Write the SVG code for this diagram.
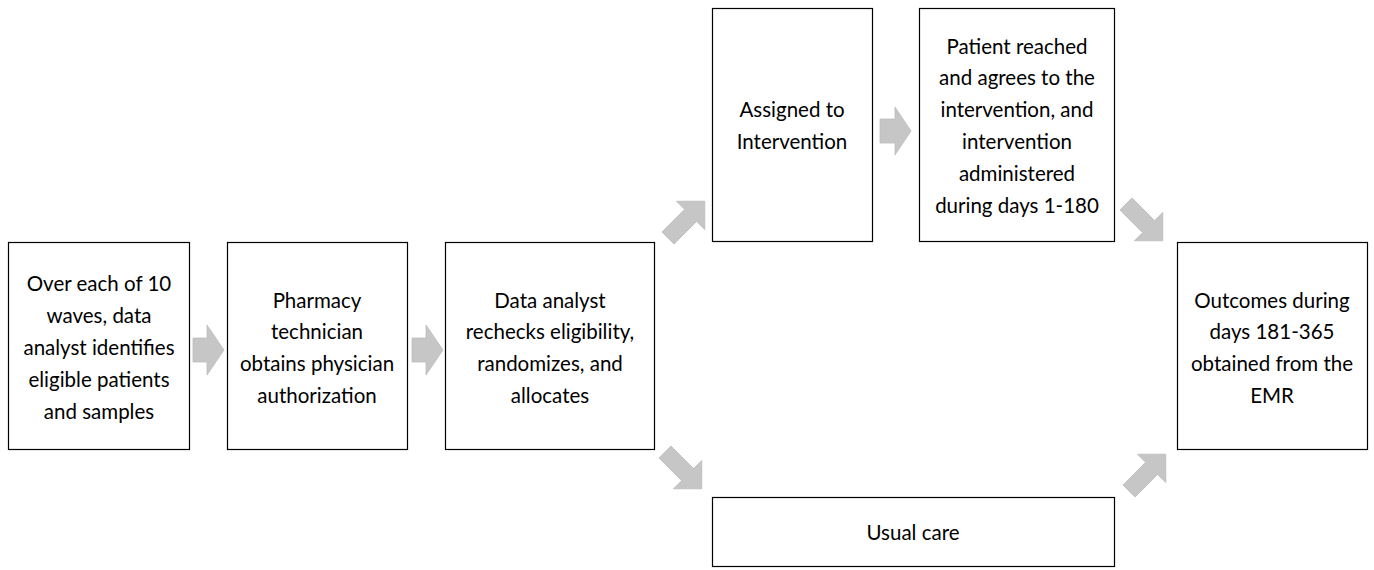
<svg xmlns="http://www.w3.org/2000/svg" width="1374" height="570" viewBox="0 0 1374 570">
<style>
.box{fill:#fff;stroke:#000;stroke-width:1.2}
text{font-family:Lato,"Open Sans","Liberation Sans",sans-serif;font-size:20.5px;fill:#000;text-anchor:middle;dominant-baseline:central}
.arr{fill:#c6c6c6;stroke:#bdbdbd;stroke-width:0.8}
</style>
<defs>
<path id="diag" d="M0,-8.5 L32,-8.5 L32,-20 L52,0 L32,20 L32,8.5 L0,8.5 Z"/>
</defs>
<rect width="1374" height="570" fill="#fff"/>
<g id="connectors">
<path class="arr" d="M193,338 L207,338 L207,325 L224,350 L207,375 L207,362 L193,362 Z"/>
<path class="arr" d="M412,338 L426,338 L426,325 L443,350 L426,375 L426,362 L412,362 Z"/>
<path class="arr" d="M880,119 L895,119 L895,107 L911,131 L895,155 L895,143 L880,143 Z"/>
<use href="#diag" class="arr" transform="translate(668,238) rotate(-45)"/>
<use href="#diag" class="arr" transform="translate(665,452) rotate(45)"/>
<use href="#diag" class="arr" transform="translate(1126,204) rotate(45)"/>
<use href="#diag" class="arr" transform="translate(1129,491) rotate(-45)"/>
</g>
<g id="n1">
<rect class="box" x="8.5" y="242.5" width="181" height="207"/>
<text x="99" y="283">Over each of 10</text>
<text x="99" y="315">waves, data</text>
<text x="99" y="347">analyst identifies</text>
<text x="99" y="379">eligible patients</text>
<text x="99" y="411">and samples</text>
</g>
<g id="n2">
<rect class="box" x="227.5" y="242.5" width="180" height="207"/>
<text x="317" y="300">Pharmacy</text>
<text x="317" y="331">technician</text>
<text x="317" y="363">obtains physician</text>
<text x="317" y="395">authorization</text>
</g>
<g id="n3">
<rect class="box" x="445.5" y="242.5" width="209" height="207"/>
<text x="550" y="300">Data analyst</text>
<text x="550" y="331">rechecks eligibility,</text>
<text x="550" y="363">randomizes, and</text>
<text x="550" y="395">allocates</text>
</g>
<g id="n4">
<rect class="box" x="712.5" y="8.5" width="160" height="233"/>
<text x="792" y="109">Assigned to</text>
<text x="792" y="141">Intervention</text>
</g>
<g id="n5">
<rect class="box" x="919.5" y="8.5" width="195" height="233"/>
<text x="1017" y="46">Patient reached</text>
<text x="1017" y="77">and agrees to the</text>
<text x="1017" y="109">intervention, and</text>
<text x="1017" y="141">intervention</text>
<text x="1017" y="173">administered</text>
<text x="1017" y="205">during days 1-180</text>
</g>
<g id="n6">
<rect class="box" x="1177.5" y="242.5" width="190" height="207"/>
<text x="1272" y="300">Outcomes during</text>
<text x="1272" y="331">days 181-365</text>
<text x="1272" y="363">obtained from the</text>
<text x="1272" y="395">EMR</text>
</g>
<g id="n7">
<rect class="box" x="712.5" y="497.5" width="402" height="69"/>
<text x="913" y="532">Usual care</text>
</g>
</svg>
